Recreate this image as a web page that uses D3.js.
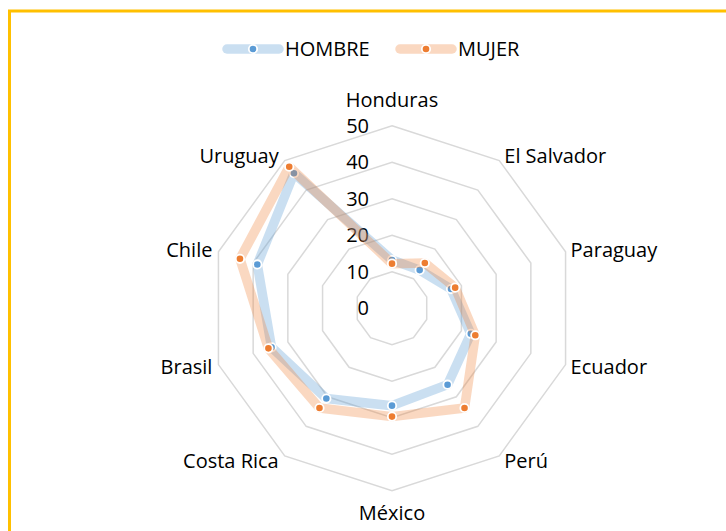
<!DOCTYPE html>
<html lang="es">
  <head>
    <meta charset="utf-8" />
    <title>HOMBRE / MUJER</title>
    <style>
      body {
        margin: 0;
        background: #fff;
      }
      text {
        font-family: "Open Sans", Lato, sans-serif;
        fill: #000;
      }
    </style>
    <script src="https://d3js.org/d3.v7.min.js"></script>
  </head>

  <body>
    <svg width="726" height="531"></svg>

    <script>
      // data
      var categories = [
        "Honduras",
        "El Salvador",
        "Paraguay",
        "Ecuador",
        "Perú",
        "México",
        "Costa Rica",
        "Brasil",
        "Chile",
        "Uruguay",
      ];
      var hombre = [13.2, 12.9, 17.0, 22.7, 25.9, 26.7, 30.6, 34.7, 38.8, 45.7];
      var mujer = [12.2, 15.3, 18.2, 24.0, 33.8, 29.7, 33.8, 35.6, 43.8, 47.9];
      var tickValues = [0, 10, 20, 30, 40, 50];
      var seriesNames = ["HOMBRE", "MUJER"];

      var svg = d3.select("svg");
      var cx = 392,
        cy = 308.2;

      var series = [
        { name: seriesNames[0], values: hombre, color: "#5B9BD5", opacity: 0.32 },
        { name: seriesNames[1], values: mujer, color: "#ED7D31", opacity: 0.3 },
      ];

      // frame (only top and left edges are inside the picture)
      svg
        .append("rect")
        .attr("x", 9.5)
        .attr("y", 11)
        .attr("width", 760)
        .attr("height", 560)
        .attr("fill", "none")
        .attr("stroke", "#FFC000")
        .attr("stroke-width", 3);

      var r = d3.scaleLinear().domain([0, 50]).range([0, 182.5]);
      var angle = d3
        .scaleLinear()
        .domain([0, categories.length])
        .range([0, 2 * Math.PI]);

      var point = (i, v) => [
        cx + r(v) * Math.sin(angle(i)),
        cy - r(v) * Math.cos(angle(i)),
      ];

      var g = svg.append("g");

      // decagon grid rings
      var ring = (v) =>
        d3.range(categories.length).map((i) => point(i, v));
      g.selectAll(".ring")
        .data(tickValues.filter((t) => t > 0))
        .enter()
        .append("path")
        .attr("class", "ring")
        .attr("d", (t) => d3.line()(ring(t)) + "Z")
        .attr("fill", "none")
        .attr("stroke", "#D9D9D9")
        .attr("stroke-width", 1.5);

      // radial tick labels
      g.selectAll(".tick")
        .data(tickValues)
        .enter()
        .append("text")
        .attr("class", "tick")
        .attr("x", cx - 23)
        .attr("y", (t) => cy - r(t))
        .attr("dy", "0.36em")
        .attr("text-anchor", "end")
        .attr("font-size", 20)
        .text((t) => t);

      // category labels around the outside
      g.selectAll(".cat")
        .data(categories)
        .enter()
        .append("text")
        .attr("class", "cat")
        .attr("font-size", 20)
        .attr("text-anchor", (d, i) => {
          var s = Math.sin(angle(i));
          return s > 0.1 ? "start" : s < -0.1 ? "end" : "middle";
        })
        .attr("x", (d, i) => {
          var s = Math.sin(angle(i));
          var p = point(i, 50);
          return p[0] + (s > 0.1 ? 5 : s < -0.1 ? -6 : 0);
        })
        .attr("y", (d, i) => {
          var c = Math.cos(angle(i));
          var p = point(i, 50);
          if (c > 0.99) return p[1] - 19;
          if (c < -0.99) return p[1] + 29;
          return p[1] - c * 6;
        })
        .attr("dy", (d, i) => {
          var c = Math.abs(Math.cos(angle(i)));
          return c > 0.99 ? 0 : "0.36em";
        })
        .text((d) => d);

      // one layer per series: band then markers
      var line = d3.line().curve(d3.curveLinearClosed);
      series.forEach((s) => {
        var pts = s.values.map((v, i) => point(i, v));
        g.append("path")
          .attr("d", line(pts))
          .attr("fill", "none")
          .attr("stroke", s.color)
          .attr("stroke-opacity", s.opacity)
          .attr("stroke-width", 9.5)
          .attr("stroke-linejoin", "round");
        g.selectAll(null)
          .data(pts)
          .enter()
          .append("circle")
          .attr("cx", (p) => p[0])
          .attr("cy", (p) => p[1])
          .attr("r", 4.2)
          .attr("fill", s.color)
          .attr("stroke", "#fff")
          .attr("stroke-width", 1.8);
      });

      // legend
      var legendX = [223, 396];
      var legend = svg
        .selectAll(".legend")
        .data(series)
        .enter()
        .append("g")
        .attr("class", "legend")
        .attr("transform", (d, i) => `translate(${legendX[i]},49)`);
      legend
        .append("line")
        .attr("x1", 4)
        .attr("x2", 56)
        .attr("stroke", (d) => d.color)
        .attr("stroke-opacity", (d) => d.opacity)
        .attr("stroke-width", 9.5)
        .attr("stroke-linecap", "round");
      legend
        .append("circle")
        .attr("cx", 30)
        .attr("r", 4.2)
        .attr("fill", (d) => d.color)
        .attr("stroke", "#fff")
        .attr("stroke-width", 1.8);
      legend
        .append("text")
        .attr("x", 62)
        .attr("dy", "0.36em")
        .attr("font-size", 20)
        .text((d) => d.name);
    </script>
  </body>
</html>
